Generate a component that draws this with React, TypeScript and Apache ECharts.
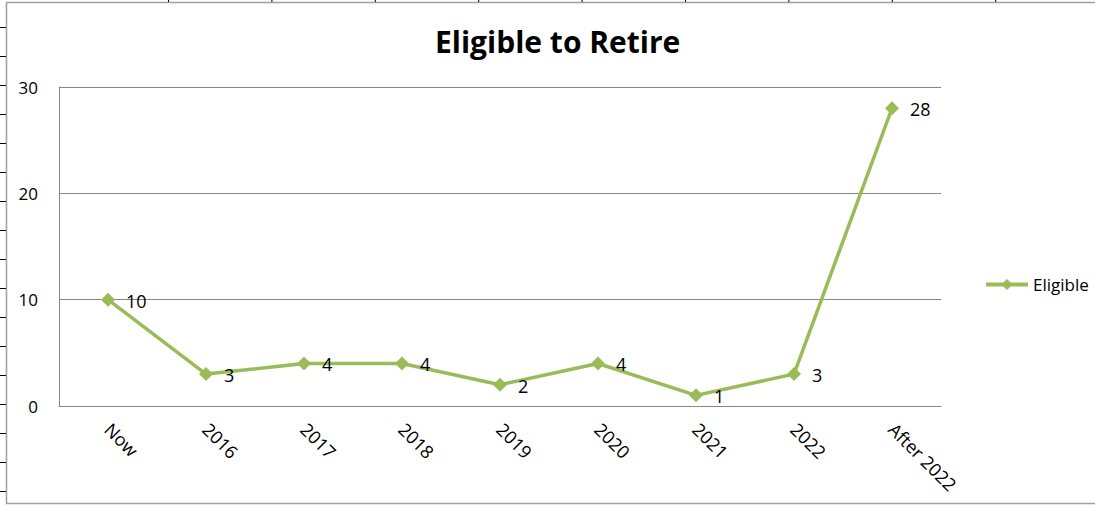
import React, { useEffect, useRef } from "react";
import * as echarts from "echarts";

const categories = ["Now", "2016", "2017", "2018", "2019", "2020", "2021", "2022", "After 2022"];
const eligible = [10, 3, 4, 4, 2, 4, 1, 3, 28];
const yTicks = { min: 0, max: 30, interval: 10 };
const seriesName = "Eligible";
const titleText = "Eligible to Retire";

const FONT = "'Open Sans', 'Noto Sans', sans-serif";
const GREEN = "#9BBB59";

export default function App() {
  const ref = useRef<HTMLDivElement>(null);
  useEffect(() => {
    if (!ref.current) return;
    const chart = echarts.init(ref.current, undefined, { renderer: "svg" });

    const deco: any[] = [];
    deco.push({
      type: "rect",
      shape: { x: 6.5, y: 2.5, width: 1100, height: 501 },
      style: { fill: "none", stroke: "#a0a0a0", lineWidth: 1.5 },
      silent: true,
    });
    for (let k = 0; k < 17; k++) {
      const y = 27.5 + 29 * k;
      deco.push({
        type: "line",
        shape: { x1: 0, y1: y, x2: 6, y2: y },
        style: { stroke: "#000", lineWidth: 1 },
        silent: true,
      });
    }
    for (let k = 0; k < 9; k++) {
      const x = 168.5 + 103.4 * k;
      deco.push({
        type: "line",
        shape: { x1: x, y1: 0, x2: x, y2: 2 },
        style: { stroke: "#000", lineWidth: 1 },
        silent: true,
      });
    }

    chart.setOption({
      animation: false,
      backgroundColor: "#fff",
      title: {
        text: titleText,
        left: 430,
        top: 21,
        textStyle: { fontFamily: FONT, fontSize: 30, fontWeight: "bold", color: "#000" },
      },
      legend: {
        data: [seriesName],
        orient: "vertical",
        left: 984,
        top: 276,
        padding: 0,
        itemWidth: 42,
        itemHeight: 14,
        itemGap: 4,
        lineStyle: { width: 4, color: GREEN },
        itemStyle: { color: GREEN },
        textStyle: { fontFamily: FONT, fontSize: 17, color: "#000" },
      },
      grid: { left: 59, right: 154, top: 87, bottom: 100, containLabel: false },
      xAxis: {
        type: "category",
        data: categories,
        boundaryGap: true,
        axisLine: { lineStyle: { color: "#868686", width: 1 } },
        axisTick: { show: false },
        axisLabel: {
          rotate: -45,
          margin: 20,
          fontFamily: FONT,
          fontSize: 18,
          color: "#000",
        },
      },
      yAxis: {
        type: "value",
        min: yTicks.min,
        max: yTicks.max,
        interval: yTicks.interval,
        axisLine: { show: true, lineStyle: { color: "#868686", width: 1 } },
        axisTick: { show: false },
        splitLine: { lineStyle: { color: "#868686", width: 1 } },
        axisLabel: { margin: 21, fontFamily: FONT, fontSize: 17, color: "#000" },
      },
      series: [
        {
          name: seriesName,
          type: "line",
          data: eligible,
          symbol: "diamond",
          symbolSize: 14,
          itemStyle: { color: GREEN },
          lineStyle: { color: GREEN, width: 3.5 },
          label: {
            show: true,
            position: "right",
            distance: 11,
            offset: [0, 1],
            fontFamily: FONT,
            fontSize: 18,
            color: "#000",
            textBorderWidth: 0,
          },
        },
      ],
      graphic: deco,
    });
    return () => chart.dispose();
  }, []);
  return (
    <div
      ref={ref}
      style={{ position: "fixed", left: 0, top: 0, width: 1095, height: 506 }}
    />
  );
}
